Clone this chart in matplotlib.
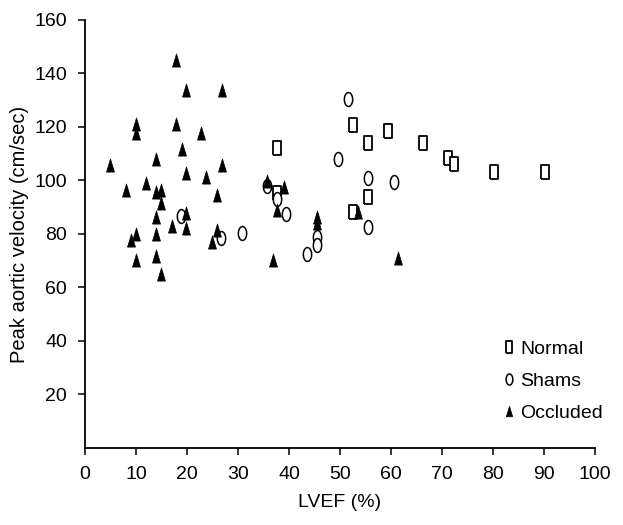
import numpy as np
import matplotlib.pyplot as plt

plt.rcParams['font.family'] = ['Liberation Sans', 'DejaVu Sans']

# Normal (squares)
normal_x = [37.6, 37.6, 52.6, 52.6, 55.5, 55.5, 59.5, 66.3, 71.2, 72.4, 80.2, 90.2]
normal_y = [112, 95.4, 120.7, 88.3, 114.1, 94, 118.5, 114.1, 108.3, 106.2, 103, 103]

# Shams (circles)
shams_x = [18.8, 26.6, 30.7, 35.6, 37.6, 39.5, 43.5, 45.5, 45.5, 49.7, 51.5, 55.5, 55.5, 60.5]
shams_y = [86.8, 78.4, 80.5, 98, 93, 87.5, 72.5, 79, 75.9, 108, 130.5, 100.8, 82.5, 99.6]

# Occluded (triangles)
occl_x = [17.8, 19.9, 26.8, 10.0, 10.0, 17.8, 22.8, 19.0, 5.0, 13.9, 26.8, 19.9, 23.7,
          8.0, 11.9, 13.9, 14.9, 25.8, 14.9, 13.9, 19.9, 17.0, 19.9, 10.0, 9.0, 13.9,
          25.8, 25.0, 10.0, 13.9, 14.9, 36.8, 35.7, 37.6, 39.0, 45.5, 45.5, 53.6, 61.3]
occl_y = [145, 133.8, 133.8, 121, 117.6, 121, 117.9, 111.7, 105.8, 107.9, 105.8, 102.7, 101.4,
          96.4, 99, 95.8, 96.4, 94.6, 91.5, 86.5, 87.7, 83.1, 82.1, 80, 77.8, 79.9,
          81.5, 77.1, 70.3, 71.8, 65, 70.3, 99.9, 89, 97.7, 86.5, 84, 88.3, 70.9]

# tall narrow marker shapes, like in the printed figure
rect = [(-0.55, -1), (0.55, -1), (0.55, 1), (-0.55, 1), (-0.55, -1)]
t = np.linspace(0, 2 * np.pi, 40)
ellipse = list(zip(0.6 * np.cos(t), np.sin(t)))
tri = [(-0.6, -1), (0.6, -1), (0, 1), (-0.6, -1)]

fig = plt.figure(figsize=(6.23, 5.25), dpi=100)
ax = fig.add_axes([0.1364, 0.1467, 0.8186, 0.8153])

ax.plot(normal_x, normal_y, linestyle='none', marker=rect, markersize=10.5,
        markerfacecolor='white', markeredgecolor='black', markeredgewidth=1.3, label='Normal')
ax.plot(shams_x, shams_y, linestyle='none', marker=ellipse, markersize=10,
        markerfacecolor='white', markeredgecolor='black', markeredgewidth=1.1, label='Shams')
ax.plot(occl_x, occl_y, linestyle='none', marker=tri, markersize=9.5,
        markerfacecolor='black', markeredgecolor='black', markeredgewidth=0.5, label='Occluded')

ax.set_xlim(0, 100)
ax.set_ylim(0, 160)
ax.set_xticks(range(0, 101, 10))
ax.set_yticks(range(20, 161, 20))
ax.spines['top'].set_visible(False)
ax.spines['right'].set_visible(False)
ax.spines['left'].set_linewidth(1.3)
ax.spines['bottom'].set_linewidth(1.3)
ax.tick_params(axis='both', labelsize=14, width=1.1, length=5, pad=8)

ax.set_xlabel('LVEF (%)', fontsize=14, labelpad=8)
ax.set_ylabel('Peak aortic velocity (cm/sec)', fontsize=14.5, labelpad=4)

ax.legend(loc='upper left', bbox_to_anchor=(0.80, 0.275), frameon=False, fontsize=14,
          handlelength=0.6, handletextpad=0.3, labelspacing=0.75, borderpad=0,
          markerscale=0.8)

plt.savefig('out.png', dpi=100)
